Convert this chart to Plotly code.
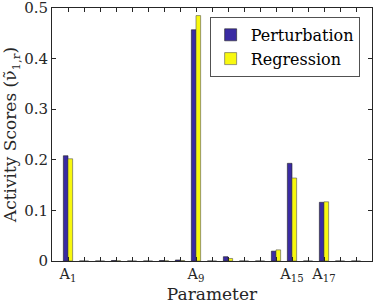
import plotly.graph_objects as go

params = list(range(1, 20))
perturbation = [0.208, 0.0, 0.0, 0.001, 0.0, 0.0, 0.001, 0.002, 0.457, 0.0,
                0.0085, 0.0, 0.0, 0.0195, 0.193, 0.0, 0.116, 0.0, 0.0]
regression = [0.202, 0.0, 0.0, 0.0005, 0.0, 0.0, 0.0005, 0.001, 0.485, 0.0,
              0.005, 0.0, 0.0, 0.022, 0.164, 0.0, 0.117, 0.0, 0.0]
tick_labels = {1: "A<sub>1</sub>", 9: "A<sub>9</sub>", 15: "A<sub>15</sub>", 17: "A<sub>17</sub>"}
y_ticks = [0, 0.1, 0.2, 0.3, 0.4, 0.5]

font = "DejaVu Serif"

fig = go.Figure()
fig.add_trace(go.Bar(x=params, y=perturbation, name="Perturbation",
                     marker=dict(color="#3a2ba3", line=dict(color="#222222", width=0.6))))
fig.add_trace(go.Bar(x=params, y=regression, name="Regression",
                     marker=dict(color="#f8f80f", line=dict(color="#555555", width=0.6))))

fig.update_layout(
    width=374, height=304,
    margin=dict(l=52, r=2, t=8, b=43, autoexpand=False),
    paper_bgcolor="white", plot_bgcolor="white",
    barmode="group", bargap=0.42, bargroupgap=0.0,
    font=dict(family=font, size=15, color="#262626"),
    showlegend=True,
    legend=dict(x=0.962, y=0.964, xanchor="right", yanchor="top",
                bgcolor="white", bordercolor="#262626", borderwidth=0.8,
                font=dict(family=font, size=16, color="black"),
                itemwidth=30, tracegroupgap=0),
    xaxis=dict(range=[0, 20], tickvals=params,
               ticktext=[tick_labels.get(p, " ") for p in params],
               tickangle=0, automargin=False,
               ticks="inside", ticklen=4, tickcolor="#262626",
               showline=True, linecolor="#262626", linewidth=0.8, mirror="ticks",
               showgrid=False, zeroline=False,
               title=dict(text="Parameter", standoff=4, font=dict(size=17)),
               tickfont=dict(size=14.5)),
    yaxis=dict(range=[0, 0.5], tickmode="array", tickvals=y_ticks,
               ticktext=["0", "0.1", "0.2", "0.3", "0.4", "0.5"],
               ticklabeloverflow="allow", automargin=False,
               ticks="inside", ticklen=4, tickcolor="#262626",
               showline=True, linecolor="#262626", linewidth=0.8, mirror="ticks",
               showgrid=False, zeroline=False,
               title=dict(text="Activity Scores (ν̃<sub>1,r</sub>)", standoff=4, font=dict(size=17)),
               tickfont=dict(size=15)),
)

fig.write_html("out.html", config={"displayModeBar": False},
               post_script="document.body.style.margin='0';document.body.style.overflow='hidden';")
